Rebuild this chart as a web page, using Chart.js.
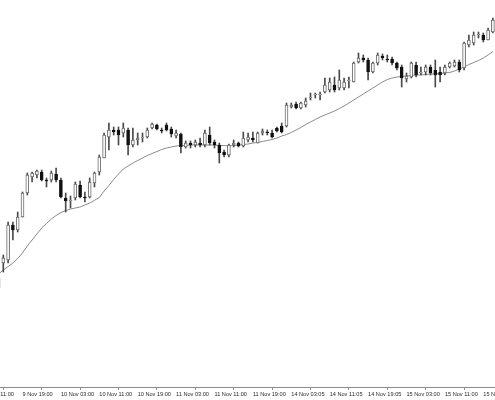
<!DOCTYPE html>
<html>
<head>
<meta charset="utf-8">
<script src="https://cdn.jsdelivr.net/npm/chart.js@4.4.0/dist/chart.umd.min.js"></script>
<style>
  body { margin: 0; background: #fff; }
  #wrap { width: 495px; height: 400px; }
</style>
</head>
<body>
<div id="wrap"><canvas id="myChart"></canvas></div>
<script>
// hourly candles, index 0 = 9 Nov 14:00
var opens = [22, 37, 40, 75, 70, 83, 107, 123, 125, 128,
  120, 120, 126, 120, 102, 99, 102, 115, 103, 103,
  117, 128, 142, 163, 170, 170, 167, 170, 155, 160,
  162, 163, 172, 175, 170, 175, 171, 164, 166, 153,
  157, 155, 157, 155, 165, 158, 155, 148, 145, 155,
  157, 154, 160, 162, 157, 167, 168, 167, 172, 174,
  174, 193, 196, 192, 195, 202, 205, 205, 208, 210,
  215, 212, 212, 219, 218, 238, 242, 240, 228, 237,
  244, 241, 241, 237, 233, 221, 223, 235, 227, 228,
  233, 230, 228, 227, 233, 234, 238, 232, 255, 257,
  265, 265, 260, 268];
var closes = [12, 42, 75, 70, 83, 107, 125, 127, 129, 120,
  119, 127, 120, 103, 99, 100, 116, 103, 102, 118,
  127, 143, 165, 170, 168, 165, 172, 155, 160, 162,
  163, 170, 176, 171, 169, 170, 166, 167, 153, 157,
  155, 158, 155, 167, 157, 155, 147, 145, 155, 157,
  154, 162, 163, 160, 167, 169, 167, 163, 169, 168,
  195, 195, 192, 197, 199, 203, 206, 206, 215, 218,
  210, 220, 218, 220, 237, 242, 240, 228, 237, 245,
  242, 240, 237, 232, 222, 224, 237, 225, 228, 233,
  227, 225, 225, 233, 237, 238, 230, 257, 260, 265,
  266, 260, 270, 280];
var highs = [28, 45, 78, 78, 88, 108, 127, 128, 130, 130,
  122, 129, 132, 122, 107, 104, 118, 119, 108, 122,
  128, 145, 167, 177, 173, 173, 177, 172, 172, 167,
  167, 172, 177, 176, 172, 177, 173, 170, 167, 159,
  159, 160, 162, 170, 173, 160, 157, 150, 156, 160,
  158, 168, 167, 168, 168, 171, 170, 170, 173, 177,
  197, 197, 198, 198, 202, 207, 207, 208, 222, 222,
  223, 230, 222, 223, 238, 247, 245, 242, 238, 247,
  246, 245, 243, 238, 235, 227, 238, 238, 233, 235,
  235, 240, 233, 235, 238, 240, 240, 258, 265, 268,
  268, 267, 272, 282];
var lows = [8, 28, 37, 60, 68, 83, 105, 118, 122, 119,
  113, 118, 118, 102, 88, 92, 100, 102, 98, 102,
  113, 125, 142, 150, 165, 155, 163, 145, 153, 155,
  158, 162, 171, 170, 167, 169, 163, 162, 147, 152,
  152, 153, 153, 153, 155, 152, 137, 143, 143, 153,
  153, 153, 158, 158, 157, 165, 165, 162, 168, 167,
  173, 192, 191, 191, 193, 200, 202, 200, 207, 208,
  208, 210, 210, 212, 218, 237, 238, 220, 227, 235,
  240, 238, 235, 230, 213, 218, 222, 223, 225, 225,
  225, 213, 218, 225, 232, 233, 228, 230, 253, 255,
  262, 258, 260, 267];
var ma = [26, 30, 33.5, 37, 41.5, 47, 54, 60, 66, 72,
  76.5, 81, 84.5, 87.4, 89.3, 91, 92, 93, 95, 97,
  99.7, 102.5, 109, 114.5, 120.5, 126, 131, 134, 137, 139.5,
  142, 144.5, 146.5, 148.5, 150.5, 152, 153, 154, 154.5, 154.5,
  155, 155, 155, 155, 155, 155, 154.5, 154.5, 154, 154.5,
  155, 155.5, 156, 157, 157.5, 158.5, 159.5, 160.5, 162, 164,
  165.5, 167.5, 170, 172.5, 175.5, 178, 180.5, 183, 185, 187,
  189, 191.5, 194, 197, 200, 203, 206, 209, 212, 215,
  218, 220.5, 222, 223, 223.5, 224, 224.5, 225, 225, 225.5,
  226, 226, 226.5, 227, 227.5, 229, 231, 233, 235.5, 237.5,
  239.5, 242, 245, 248.5];

var tickIdx = [-3, 5, 13, 21, 29, 37, 45, 53, 61, 69, 77, 85, 93, 101];
var tickLabels = ['9 Nov 11:00', '9 Nov 19:00', '10 Nov 03:00', '10 Nov 11:00', '10 Nov 19:00',
  '11 Nov 03:00', '11 Nov 11:00', '11 Nov 19:00', '14 Nov 03:05', '14 Nov 11:05',
  '14 Nov 19:05', '15 Nov 03:00', '15 Nov 11:00', '15 Nov 19:00'];

var bodies = [], wicks = [], maLine = [], fill = [], edge = [];
for (var i = 0; i < opens.length; i++) {
  bodies.push({x: i, y: [opens[i], closes[i]]});
  wicks.push({x: i, y: [lows[i], highs[i]]});
  maLine.push({x: i, y: ma[i]});
  var up = closes[i] >= opens[i];
  fill.push(up ? '#ffffff' : '#111111');
  edge.push(up ? '#6a6a6a' : '#111111');
}

var ctx = document.getElementById('myChart');
var myChart = new Chart(ctx, {
  type: 'bar',
  data: {
    datasets: [{
      label: 'body',
      data: bodies,
      backgroundColor: fill,
      borderColor: edge,
      borderWidth: 1,
      borderSkipped: false,
      barThickness: 3,
      grouped: false,
      order: 0
    }, {
      label: 'wick',
      data: wicks,
      backgroundColor: '#4a4a4a',
      borderWidth: 0,
      barThickness: 1,
      grouped: false,
      order: 1
    }, {
      type: 'line',
      label: 'MA',
      data: maLine,
      borderColor: '#8a8a8a',
      borderWidth: 1,
      pointRadius: 0,
      tension: 0,
      order: 2
    }]
  },
  options: {
    responsive: true,
    maintainAspectRatio: false,
    animation: false,
    layout: { padding: 0 },
    plugins: { legend: { display: false }, tooltip: { enabled: false } },
    scales: {
      x: {
        type: 'linear',
        min: 0.3125,
        max: 103.44,
        offset: false,
        border: { display: true, color: '#8c8c8c' },
        grid: { display: true, drawOnChartArea: false, drawTicks: true, tickLength: 3, color: '#8c8c8c' },
        ticks: {
          autoSkip: false,
          maxRotation: 0,
          align: 'start',
          padding: 1,
          color: '#2a2a2a',
          font: { family: 'Liberation Sans', size: 5.6 },
          callback: function(value) {
            var k = tickIdx.indexOf(value);
            return k >= 0 ? tickLabels[k] : '';
          }
        },
        afterBuildTicks: function(scale) {
          scale.ticks = tickIdx.map(function(v) { return {value: v}; });
        },
        afterFit: function(scale) {
          scale.height = 13;
          scale.paddingLeft = 0;
          scale.paddingRight = 0;
        }
      },
      y: {
        display: false,
        min: -87,
        max: 300
      }
    }
  }
});
</script>
</body>
</html>
